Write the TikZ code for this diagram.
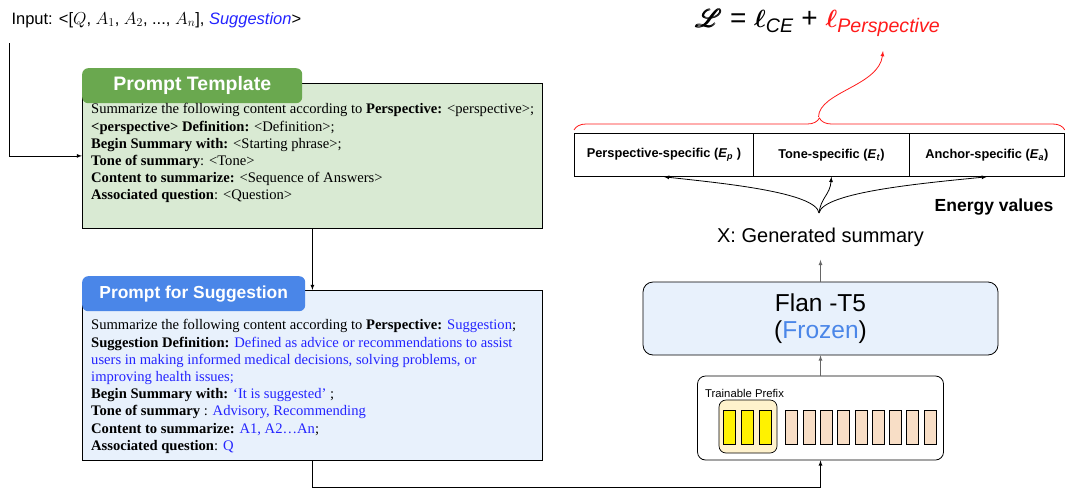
\documentclass[tikz,border=0pt]{standalone}
\usepackage{amsmath}
\usepackage{mathrsfs}
\usepackage{fontspec}
\setmainfont{Liberation Serif}
\setsansfont{Liberation Sans}
\usepackage{tikz}
\usetikzlibrary{arrows}
\usetikzlibrary{positioning,decorations.pathreplacing}

\definecolor{tmplgreen}{HTML}{6AA84F}
\definecolor{tmplfill}{HTML}{D9EAD3}
\definecolor{sughead}{HTML}{4A86E8}
\definecolor{sugfill}{HTML}{E8F1FC}
\definecolor{sugblue}{HTML}{2424FF}
\definecolor{frozen}{HTML}{4A86E8}
\definecolor{grpfill}{HTML}{FFF2CC}
\definecolor{tokfill}{HTML}{F8DEC6}
\definecolor{lossred}{HTML}{FF1A1A}

\begin{document}
\begin{tikzpicture}[x=1pt,y=-1pt,font=\sffamily,>=latex]
	\tikzstyle{frame}=[draw, line width=0.8pt, anchor=north west, inner sep=0pt, minimum width=460pt]
	\tikzstyle{tab}=[rounded corners=6pt, anchor=north west, inner sep=0pt, minimum height=35pt, text=white]
	\tikzstyle{prompt}=[anchor=north west, inner sep=0pt, align=left, font=\rmfamily\fontsize{14.6}{17.2}\selectfont]
	\tikzstyle{energy}=[draw, line width=0.8pt, anchor=north west, minimum height=43pt, inner sep=0pt, font=\sffamily\bfseries\fontsize{12.8}{14}\selectfont]
	\tikzstyle{token}=[draw, line width=0.7pt, minimum width=12pt, minimum height=34pt, inner sep=0pt]
	
	\useasboundingbox (0,0) rectangle (1065,490);
	
	% input
	\node[anchor=west, font=\sffamily\fontsize{16.5}{18}\selectfont] (input) at (8,20) {Input: <[$Q$, $A_1$, $A_2$, ..., $A_n$], \textcolor{sugblue}{\textit{Suggestion}}>};
	\coordinate (instart) at (9.5,43);
	
	% prompt template
	\node[frame, fill=tmplfill, minimum height=145pt] (tmpl) at (82,83) {};
	\node[tab, fill=tmplgreen, minimum width=220pt, font=\sffamily\bfseries\fontsize{19.5}{22}\selectfont] (tmplhead) at (82,68) {Prompt Template};
	\node[prompt] (tmpltxt) at (91,103.5) {Summarize the following content according to \textbf{Perspective:} <perspective>;\\
		\textbf{<perspective> Definition:} <Definition>;\\
		\textbf{Begin Summary with:} <Starting phrase>;\\
		\textbf{Tone of summary}: <Tone>\\
		\textbf{Content to summarize:} <Sequence of Answers>\\
		\textbf{Associated question}: <Question>};
	
	% prompt for suggestion
	\node[frame, fill=sugfill, minimum height=170pt] (sug) at (82,290) {};
	\node[tab, fill=sughead, minimum width=223pt, font=\sffamily\bfseries\fontsize{17.4}{20}\selectfont] (sughead) at (82,276) {Prompt for Suggestion};
	\node[prompt] (sugtxt) at (91,319.5) {Summarize the following content according to \textbf{Perspective:} \textcolor{sugblue}{Suggestion};\\
		\textbf{Suggestion Definition:} \textcolor{sugblue}{Defined as advice or recommendations to assist}\\
		\textcolor{sugblue}{users in making informed medical decisions, solving problems, or}\\
		\textcolor{sugblue}{improving health issues;}\\
		\textbf{Begin Summary with:} \textcolor{sugblue}{‘It is suggested’} ;\\
		\textbf{Tone of summary} : \textcolor{sugblue}{Advisory, Recommending}\\
		\textbf{Content to summarize:} \textcolor{sugblue}{A1, A2…An};\\
		\textbf{Associated question}: \textcolor{sugblue}{Q}};
	
	% model side
	\node[draw, line width=0.8pt, rounded corners=8pt, minimum width=246pt, minimum height=84pt] (prefix) at (820.5,418) {};
	\node[anchor=west, inner sep=0pt, font=\sffamily\fontsize{11.3}{13}\selectfont] (prefixlbl) at (705,393) {Trainable Prefix};
	\node[draw, line width=0.7pt, rounded corners=7pt, fill=grpfill, minimum width=58pt, minimum height=53pt] (prefixgrp) at (748,426.5) {};
	\foreach \i in {0,1,2}
		\node[token, fill=yellow] (ytok\i) at (729.5+18*\i,427) {};
	\foreach \i in {0,...,8}
		\node[token, fill=tokfill] (tok\i) at (791.7+17.3*\i,427) {};
	
	\node[draw, line width=0.8pt, rounded corners=10pt, fill=sugfill, minimum width=355pt, minimum height=73pt, align=center, font=\sffamily\fontsize{24.5}{27}\selectfont] (flan) at (820.5,318.5) {Flan -T5\\(\textcolor{frozen}{Frozen})};
	\node[font=\sffamily\fontsize{20}{22}\selectfont] (gen) at (820.5,237) {X: Generated summary};
	\coordinate (fan) at (819,213);
	
	% energy values
	\node[energy, minimum width=179pt] (ep) at (574,133) {Perspective-specific (\textit{E}\textsubscript{\textit{p}} )};
	\node[energy, minimum width=156pt] (et) at (753,133) {Tone-specific (\textit{E}\textsubscript{\textit{t}})};
	\node[energy, minimum width=155pt] (ea) at (909,133) {Anchor-specific (\textit{E}\textsubscript{\textit{a}})};
	\node[font=\sffamily\bfseries\fontsize{17.5}{19}\selectfont] (energylbl) at (994,207) {Energy values};
	
	% loss
	\node[anchor=base, inner sep=0pt, font=\sffamily\fontsize{28}{30}\selectfont] (loss) at (818,27) {$\pmb{\mathscr{L}}$ = $\boldsymbol{\ell}_{\textit{CE}}$ + \textcolor{lossred}{$\boldsymbol{\ell}_{\textit{Perspective}}$}};
	\coordinate (bracetip) at (818.5,117);
	\coordinate (losstip) at (883,51);
	
	\draw[lossred, line width=0.8pt, decorate, decoration={brace, amplitude=12pt}] ([yshift=3pt]ep.north west) -- ([yshift=3pt]ea.north east);
	\draw[->, lossred, line width=0.8pt] (bracetip) .. controls (819,92) and (879,86) .. (losstip);
	
	\path[->, line width=0.8pt]
	(instart) edge[to path={|- (\tikztotarget)}] (tmpl.west)
	(tmpl.south) edge (sug.north)
	(fan) edge[to path={.. controls (816,192) and (720,183) .. (\tikztotarget)}] (ep.south)
	(fan) edge[to path={.. controls (821,197) and (830,195) .. (\tikztotarget)}] (et.south)
	(fan) edge[to path={.. controls (823,192) and (925,183) .. (\tikztotarget)}] (ea.south)
	;
	\draw[->, line width=0.8pt] (sug.south) -- ++(0,27) -| (prefix.south);
	
	\path[->, gray!80!black, line width=0.8pt]
	(prefix) edge (flan)
	(flan) edge[shorten >=10pt] (gen)
	;
\end{tikzpicture}
\end{document}
